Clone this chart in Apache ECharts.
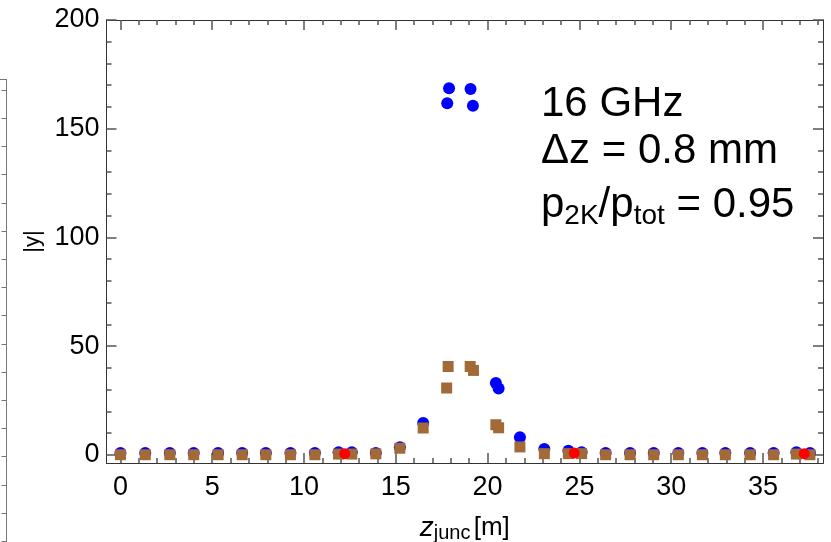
<!DOCTYPE html>
<html>
<head>
<meta charset="utf-8">
<script src="https://cdn.jsdelivr.net/npm/echarts@6.0.0/dist/echarts.min.js"></script>
<style>
  html, body { margin: 0; padding: 0; background: #fff; }
  #chart { width: 831px; height: 542px; }
</style>
</head>
<body>
<div id="chart"></div>
<script>
// axis ranges and ticks
const xMin = -0.76
const xMax = 38.27
const yMin = -3.8
const yMax = 200
const xMajor = [0, 5, 10, 15, 20, 25, 30, 35]
const xMinor = [1, 2, 3, 4, 6, 7, 8, 9, 11, 12, 13, 14, 16, 17, 18, 19,
  21, 22, 23, 24, 26, 27, 28, 29, 31, 32, 33, 34, 36, 37, 38]
const yMajor = [0, 50, 100, 150, 200]
const yMinor = [10, 20, 30, 40, 60, 70, 80, 90, 110, 120, 130, 140, 160, 170, 180, 190]

// blue circles
const blueX = [0, 1.35, 2.69, 3.99, 5.32, 6.63, 7.92, 9.26, 10.59, 11.88,
  12.6, 13.91, 15.22, 16.49, 17.9, 17.8, 19.07, 19.2, 20.45, 20.6, 21.76, 23.09, 24.4,
  25.12, 26.43, 27.76, 29.05, 30.39, 31.7, 32.95, 34.3, 35.58, 36.82, 37.56]
const blueY = [0.8, 0.8, 0.8, 0.8, 0.8, 0.8, 0.8, 0.8, 0.8, 1.2,
  1.2, 0.8, 3.5, 14.6, 168.6, 161.7, 168.3, 160.5, 33, 30.5, 8.0, 2.6, 1.8,
  1.2, 0.8, 0.8, 0.8, 0.8, 0.8, 0.8, 0.8, 0.8, 1.2, 0.8]

// brown squares
const brownX = [0, 1.35, 2.69, 3.99, 5.32, 6.63, 7.92, 9.26, 10.59, 11.88,
  12.6, 13.91, 15.22, 16.49, 17.85, 17.77, 19.05, 19.23, 20.45, 20.6, 21.76, 23.09, 24.4,
  25.12, 26.43, 27.76, 29.05, 30.39, 31.7, 32.95, 34.3, 35.58, 36.82, 37.56]
const brownY = [0, 0, 0, 0, 0, 0, 0, 0, 0, 0.3,
  0.3, 0.4, 3.0, 12.3, 40.6, 30.7, 40.6, 38.8, 13.8, 12.4, 3.6, 0.5, 0.5,
  0.5, 0, 0, 0, 0, 0, 0, 0, 0, 0.3, 0]

// red circles
const redX = [12.22, 24.72, 37.25]
const redY = [0.5, 0.8, 0.5]

// ticks of the cropped neighbour panel (pixels below its top edge)
const panelTicks = [10.5, 38.7, 66.9, 95.1, 123.3, 151.5, 179.7, 207.9, 236.1, 264.3,
  292.5, 320.7, 348.9, 377.1, 405.3, 433.5, 461.7]

const zip = (xs, ys) => xs.map((x, i) => [x, ys[i]])

const FONT = "'Liberation Sans', Arial, Helvetica, sans-serif"
const AXIS_COLOR = '#333'
const TICK_COLOR = '#555'

const chart = echarts.init(document.getElementById('chart'))

const gridRect = { left: 106.5, right: 8, top: 20, bottom: 79, outerBoundsMode: 'none' }

// grid 1: 只画刻度的坐标轴（主刻度 + 次刻度，四边）
const tickAxis = (dim, position, ticks, len) => ({
  type: 'value',
  gridIndex: 1,
  position: position,
  min: dim === 'x' ? xMin : yMin,
  max: dim === 'x' ? xMax : yMax,
  axisLine: { show: true, onZero: false, lineStyle: { color: AXIS_COLOR } },
  axisTick: { show: true, inside: true, length: len, customValues: ticks, lineStyle: { color: TICK_COLOR, width: 1.5 } },
  axisLabel: { show: false },
  splitLine: { show: false }
})

const option = {
  animation: false,
  grid: [
    Object.assign({}, gridRect),
    Object.assign({}, gridRect),
    { left: 0, width: 6.5, top: 79.5, bottom: 0, outerBoundsMode: 'none' }
  ],
  title: [
    {
      text: '16 GHz', left: 541, top: 83, padding: 0,
      textStyle: { fontSize: 42, fontWeight: 'normal', fontFamily: FONT, color: '#000' }
    },
    {
      text: '\u0394z = 0.8 mm', left: 541, top: 130, padding: 0,
      textStyle: { fontSize: 42, fontWeight: 'normal', fontFamily: FONT, color: '#000' }
    },
    {
      text: '{n|p}{s|2K}{n|/p}{s|tot}{n| = 0.95}', left: 541, top: 180, padding: 0,
      textStyle: {
        fontSize: 42, fontWeight: 'normal', fontFamily: FONT, color: '#000',
        rich: {
          n: { fontSize: 42, fontFamily: FONT, lineHeight: 50, color: '#000' },
          s: { fontSize: 28, fontFamily: FONT, lineHeight: 36, verticalAlign: 'bottom', color: '#000' }
        }
      }
    }
  ],
  xAxis: [
    {
      type: 'value',
      gridIndex: 0,
      position: 'bottom',
      min: xMin,
      max: xMax,
      axisLine: { show: false, onZero: false },
      axisTick: { show: false },
      splitLine: { show: false },
      axisLabel: { show: true, customValues: xMajor, fontSize: 27, color: '#000', margin: 11, fontFamily: FONT },
      name: '{i|z}{s|junc} {n|[m]}',
      nameLocation: 'middle',
      nameGap: 50,
      nameTextStyle: {
        rich: {
          i: { fontSize: 28, fontStyle: 'italic', color: '#000', fontFamily: FONT, lineHeight: 30 },
          s: { fontSize: 20, color: '#000', fontFamily: FONT, verticalAlign: 'bottom', lineHeight: 20 },
          n: { fontSize: 26, color: '#000', fontFamily: FONT, lineHeight: 30 }
        }
      }
    },
    tickAxis('x', 'bottom', xMajor, 10),
    tickAxis('x', 'bottom', xMinor, 5),
    tickAxis('x', 'top', xMajor, 10),
    tickAxis('x', 'top', xMinor, 5),
    {
      type: 'value', gridIndex: 2, position: 'top', min: 0, max: 1,
      axisLine: { show: true, onZero: false, lineStyle: { color: '#777' } },
      axisTick: { show: false }, axisLabel: { show: false }, splitLine: { show: false }
    }
  ],
  yAxis: [
    {
      type: 'value',
      gridIndex: 0,
      position: 'left',
      min: yMin,
      max: yMax,
      axisLine: { show: false, onZero: false },
      axisTick: { show: false },
      splitLine: { show: false },
      axisLabel: { show: true, customValues: yMajor, fontSize: 27, color: '#000', margin: 7, fontFamily: FONT },
      name: '|y|',
      nameLocation: 'middle',
      nameGap: 50,
      nameRotate: 90,
      nameTextStyle: { fontSize: 22, color: '#000', fontFamily: FONT }
    },
    tickAxis('y', 'left', yMajor, 10),
    tickAxis('y', 'left', yMinor, 5),
    tickAxis('y', 'right', yMajor, 10),
    tickAxis('y', 'right', yMinor, 5),
    {
      type: 'value', gridIndex: 2, position: 'right', min: 0, max: 462.5, inverse: true,
      axisLine: { show: true, onZero: false, lineStyle: { color: '#777' } },
      axisTick: { show: true, inside: true, length: 5, customValues: panelTicks, lineStyle: { color: '#777', width: 1 } },
      axisLabel: { show: false }, splitLine: { show: false }
    }
  ],
  series: [
    {
      name: 'blue',
      type: 'scatter',
      xAxisIndex: 0,
      yAxisIndex: 0,
      symbol: 'circle',
      symbolSize: 12,
      itemStyle: { color: '#0000ff', opacity: 1 },
      data: zip(blueX, blueY)
    },
    {
      name: 'brown',
      type: 'scatter',
      xAxisIndex: 0,
      yAxisIndex: 0,
      symbol: 'rect',
      symbolSize: 11,
      itemStyle: { color: '#a16a37', opacity: 1 },
      data: zip(brownX, brownY)
    },
    {
      name: 'red',
      type: 'scatter',
      xAxisIndex: 0,
      yAxisIndex: 0,
      symbol: 'circle',
      symbolSize: 11,
      itemStyle: { color: '#ff0000', opacity: 1 },
      data: zip(redX, redY)
    }
  ]
}

chart.setOption(option)
</script>
</body>
</html>
